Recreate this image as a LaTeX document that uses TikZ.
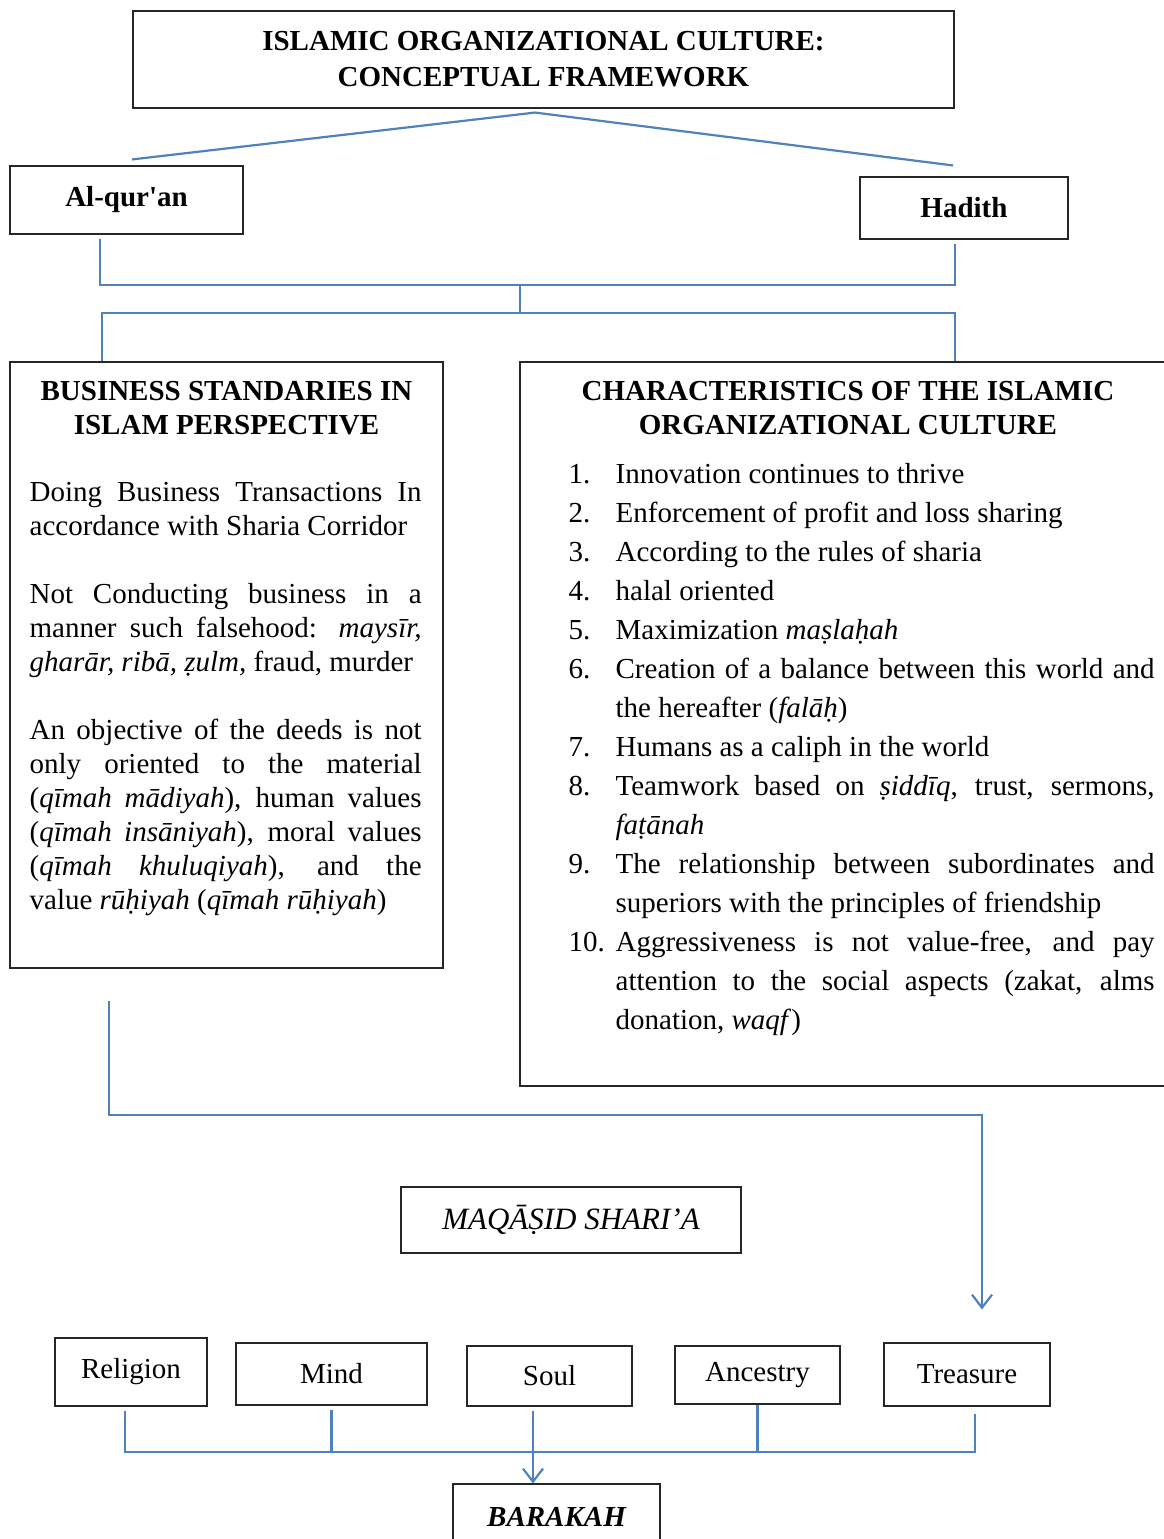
\documentclass[tikz,border=0pt]{standalone}
\usepackage{fontspec}
\setmainfont{Liberation Serif}
\usetikzlibrary{arrows.meta}

\definecolor{linkblue}{RGB}{79,129,189}
\newcommand{\charitem}[2]{\par\noindent\hangindent=47pt\hangafter=1\makebox[47pt][l]{#1}#2\par}

\begin{document}
\begin{tikzpicture}[
    x=1pt, y=-1pt,
    font=\fontsize{29}{34}\selectfont,
    framebox/.style={draw=black!85, line width=1.1pt, inner sep=0pt, align=center},
    headtext/.style={font=\fontsize{29}{34}\selectfont\bfseries, align=center, inner sep=0pt},
    bodytext/.style={align=justify, inner sep=0pt, anchor=north west},
    linkline/.style={draw=linkblue, line width=2.2pt},
    linkarrow/.style={linkline, -{Straight Barb[length=13pt, width=20pt]}}
]
    \useasboundingbox (0,0) rectangle (1163,1539);
    \tolerance=9999 \hbadness=10000 \hyphenpenalty=10000

    % Title and sources
    \node[framebox, headtext, minimum width=821pt, minimum height=97pt] (title) at (543.5,59.5)
        {ISLAMIC ORGANIZATIONAL CULTURE:\\[2pt]CONCEPTUAL FRAMEWORK};
    \node[framebox, font=\fontsize{29}{34}\selectfont\bfseries, minimum width=233pt, minimum height=68pt] (quran) at (126.5,200)
        {\raisebox{2pt}{Al-qur\textquotesingle an}};
    \node[framebox, font=\fontsize{29}{34}\selectfont\bfseries, minimum width=208pt, minimum height=62pt] (hadith) at (964,208)
        {Hadith};

    \draw[linkline] ([xshift=-8.5pt,yshift=-4pt]title.south) -- ([xshift=5.5pt,yshift=6pt]quran.north);
    \draw[linkline] ([xshift=-8.5pt,yshift=-4pt]title.south) -- ([xshift=-11pt,yshift=11pt]hadith.north);

    % Two main columns
    \node[framebox, minimum width=433pt, minimum height=606pt] (bsi) at (226.5,665) {};
    \node[framebox, minimum width=656pt, minimum height=724pt] (coc) at (848,724) {};

    \coordinate (srcjoin) at (520,285);
    \coordinate (split) at (520,313);
    \draw[linkline] ([xshift=-26.5pt,yshift=-4pt]quran.south) |- (srcjoin);
    \draw[linkline] ([xshift=-9pt,yshift=-4pt]hadith.south) |- (srcjoin);
    \draw[linkline] (srcjoin) -- (split);
    \draw[linkline] (split) -| ([xshift=-124.5pt]bsi.north);
    \draw[linkline] (split) -| ([xshift=107pt]coc.north);

    % Left column: business standards
    \node[headtext] (bsihead) at ([yshift=-47pt]bsi.north) {BUSINESS STANDARIES IN\\ISLAM PERSPECTIVE};
    \node[bodytext, text width=392pt] (bsibody) at ([xshift=20pt,yshift=-121pt]bsi.north west) {
        Doing Business Transactions In\linebreak accordance with Sharia Corridor\\[34pt]
        Not Conducting business in a\linebreak manner such falsehood: \textit{maysīr,}\linebreak
        \textit{gharār, ribā, ẓulm,} fraud, murder\\[34pt]
        An objective of the deeds is not\linebreak only oriented to the material\linebreak
        (\textit{qīmah mādiyah}), human values\linebreak (\textit{qīmah insāniyah}), moral values\linebreak
        (\textit{qīmah khuluqiyah}), and the\linebreak value \textit{rūḥiyah} (\textit{qīmah rūḥiyah})
    };

    % Right column: characteristics
    \node[headtext] (cochead) at ([yshift=-47pt]coc.north) {CHARACTERISTICS OF THE ISLAMIC\\ORGANIZATIONAL CULTURE};
    \node[bodytext, text width=586pt, font=\fontsize{29}{39}\selectfont] (coclist) at ([xshift=49pt,yshift=-83pt]coc.north west) {
        \charitem{1.}{Innovation continues to thrive}
        \charitem{2.}{Enforcement of profit and loss sharing}
        \charitem{3.}{According to the rules of sharia}
        \charitem{4.}{halal oriented}
        \charitem{5.}{Maximization \textit{maṣlaḥah}}
        \charitem{6.}{Creation of a balance between this world and\linebreak the hereafter (\textit{falāḥ})}
        \charitem{7.}{Humans as a caliph in the world}
        \charitem{8.}{Teamwork based on \textit{ṣiddīq}, trust, sermons,\linebreak \textit{faṭānah}}
        \charitem{9.}{The relationship between subordinates and\linebreak superiors with the principles of friendship}
        \charitem{10.}{Aggressiveness is not value-free, and pay\linebreak attention to the social aspects (zakat, alms\linebreak donation, \textit{waqf})}
    };

    % Maqasid and its five objectives
    \node[framebox, font=\fontsize{31}{36}\selectfont\itshape, minimum width=340pt, minimum height=66pt] (maqasid) at (571,1220)
        {MAQĀṢID SHARI’A};
    \node[framebox, minimum width=152pt, minimum height=68pt] (religion) at (131,1372) {\raisebox{4pt}{Religion}};
    \node[framebox, minimum width=191pt, minimum height=62pt] (mind) at (331.5,1374) {Mind};
    \node[framebox, minimum width=165pt, minimum height=60pt] (soul) at (549.5,1376) {Soul};
    \node[framebox, minimum width=165pt, minimum height=58pt] (ancestry) at (757.5,1375) {\raisebox{-3pt}{Ancestry}};
    \node[framebox, minimum width=166pt, minimum height=63pt] (treasure) at (967,1374.5) {Treasure};
    \node[framebox, font=\fontsize{29}{34}\selectfont\bfseries\itshape, minimum width=207pt, minimum height=66pt] (barakah) at (556.5,1517)
        {BARAKAH};

    \coordinate (bend) at (982,1115);
    \draw[linkarrow] ([xshift=-117.5pt,yshift=-32pt]bsi.south) |- (bend) -- ([xshift=15pt,yshift=33pt]treasure.north);

    \coordinate (basejoin) at (533,1452);
    \draw[linkline] ([xshift=-6pt,yshift=-4pt]religion.south) |- (basejoin);
    \draw[linkline] ([xshift=8pt,yshift=-7pt]treasure.south) |- (basejoin);
    \draw[linkline, shorten <=4pt] (mind.south) -- (mind.south |- basejoin);
    \draw[linkline] (ancestry.south) -- (ancestry.south |- basejoin);
    \draw[linkarrow, shorten <=4pt] ([xshift=-16.5pt]soul.south) -- ([xshift=-23.5pt]barakah.north);

\end{tikzpicture}
\end{document}
